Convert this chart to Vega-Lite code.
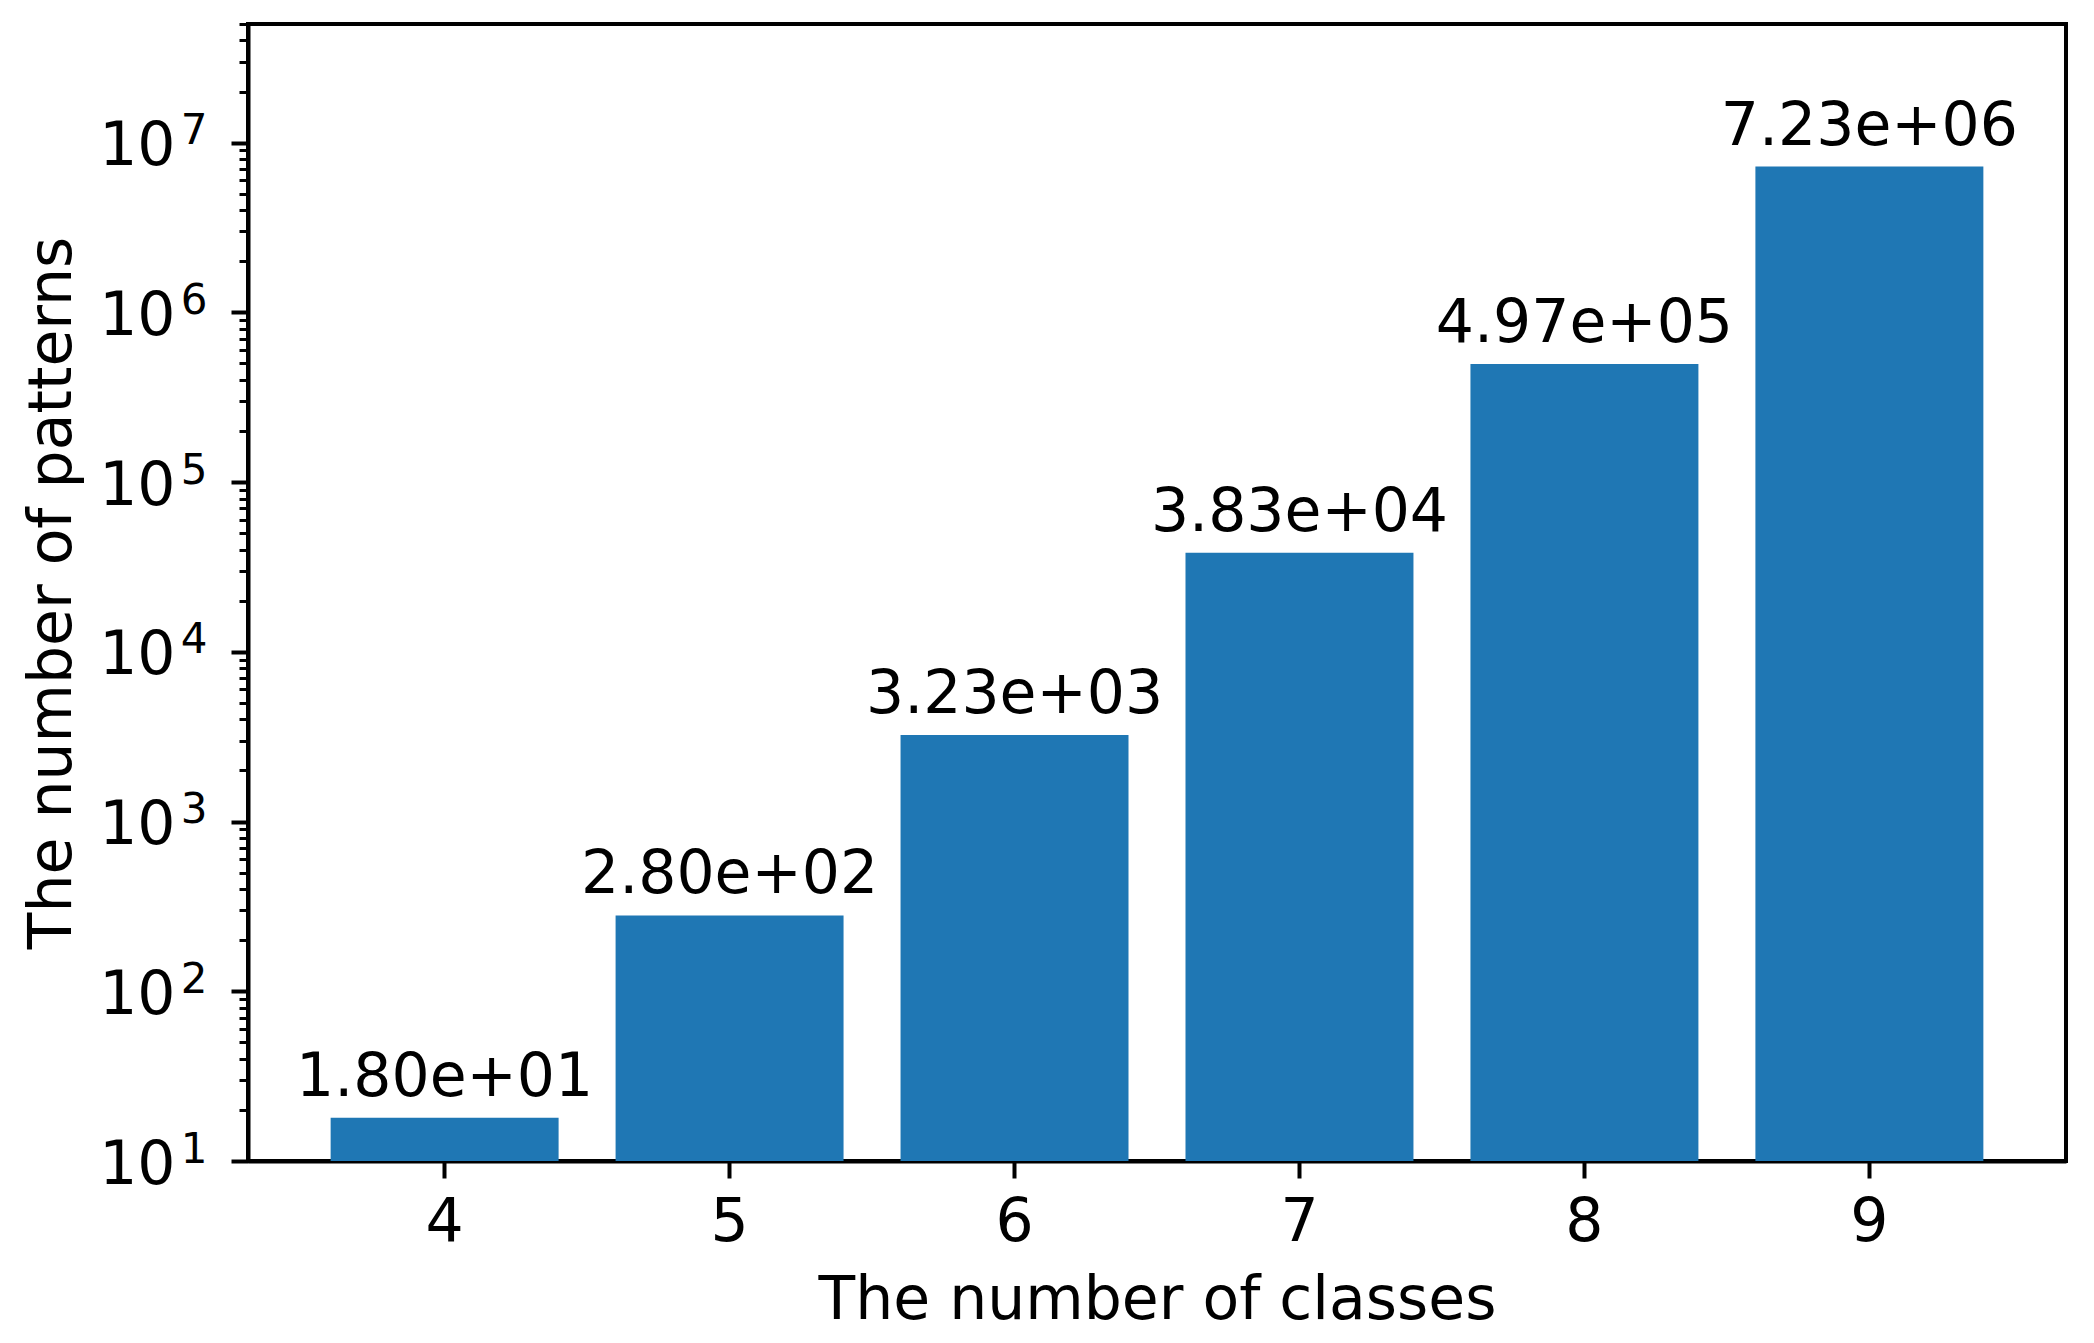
{
  "$schema": "https://vega.github.io/schema/vega-lite/v6.json",
  "autosize": {"type": "none"},
  "padding": {"left": 248, "top": 24, "right": 28, "bottom": 182},
  "width": 1818,
  "height": 1137,
  "background": "white",
  "config": {
    "font": "DejaVu Sans",
    "view": {"stroke": "black", "strokeWidth": 4},
    "axis": {"domain": false, "grid": false, "labelColor": "black", "titleColor": "black", "tickColor": "black", "labelFont": "DejaVu Sans", "titleFont": "DejaVu Sans", "titleFontWeight": "normal"}
  },
  "data": {
    "values": [
      {"classes": 4, "patterns": 18, "label": "1.80e+01"},
      {"classes": 5, "patterns": 280, "label": "2.80e+02"},
      {"classes": 6, "patterns": 3230, "label": "3.23e+03"},
      {"classes": 7, "patterns": 38300, "label": "3.83e+04"},
      {"classes": 8, "patterns": 497000, "label": "4.97e+05"},
      {"classes": 9, "patterns": 7230000, "label": "7.23e+06"}
    ]
  },
  "encoding": {
    "x": {
      "field": "classes",
      "type": "ordinal",
      "scale": {"paddingInner": 0.2, "paddingOuter": 0.29},
      "axis": {
        "title": "The number of classes",
        "titleFontSize": 60,
        "titleY": 110,
        "labelAngle": 0,
        "labelFontSize": 60,
        "labelPadding": 15,
        "tickSize": 17,
        "tickWidth": 4,
        "domain": true,
        "domainColor": "black",
        "domainWidth": 4
      }
    }
  },
  "layer": [
    {
      "mark": {"type": "bar", "color": "#1f77b4"},
      "encoding": {
        "y": {
          "field": "patterns",
          "type": "quantitative",
          "scale": {"type": "log", "domain": [10, 50000000], "nice": false},
          "axis": {
            "orient": "left",
            "title": "The number of patterns",
            "titleFontSize": 60,
            "titleX": -165,
            "domain": true,
            "domainColor": "black",
            "domainWidth": 4,
            "values": [10, 20, 30, 40, 50, 60, 70, 80, 90, 100, 200, 300, 400, 500, 600, 700, 800, 900, 1000, 2000, 3000, 4000, 5000, 6000, 7000, 8000, 9000, 10000, 20000, 30000, 40000, 50000, 60000, 70000, 80000, 90000, 100000, 200000, 300000, 400000, 500000, 600000, 700000, 800000, 900000, 1000000, 2000000, 3000000, 4000000, 5000000, 6000000, 7000000, 8000000, 9000000, 10000000, 20000000, 30000000, 40000000, 50000000],
            "labelExpr": "indexof([10,100,1000,10000,100000,1000000,10000000], datum.value) >= 0 ? '10' : ''",
            "labelFontSize": 60,
            "labelPadding": 56,
            "labelOffset": 4,
            "tickSize": {"condition": {"test": "indexof([10,100,1000,10000,100000,1000000,10000000], datum.value) >= 0", "value": 17}, "value": 9},
            "tickWidth": {"condition": {"test": "indexof([10,100,1000,10000,100000,1000000,10000000], datum.value) >= 0", "value": 4}, "value": 3}
          }
        },
        "y2": {"datum": 10}
      }
    },
    {
      "mark": {"type": "text", "fontSize": 60, "baseline": "alphabetic", "dy": -22, "color": "black"},
      "encoding": {
        "y": {
          "field": "patterns",
          "type": "quantitative",
          "axis": {
            "orient": "left",
            "title": null,
            "values": [10, 100, 1000, 10000, 100000, 1000000, 10000000],
            "labelExpr": "'' + round(log(datum.value) / LN10)",
            "labelFontSize": 42,
            "ticks": false,
            "tickSize": 0,
            "labelPadding": 41,
            "labelOffset": -12
          }
        },
        "text": {"field": "label"}
      }
    }
  ],
  "resolve": {"axis": {"y": "independent"}}
}
